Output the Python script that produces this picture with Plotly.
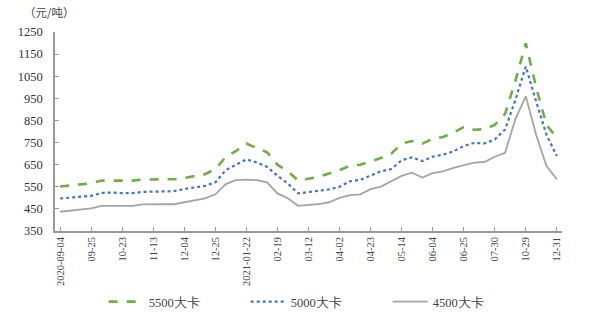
import plotly.graph_objects as go

dates = [
    "2020-09-04", "2020-09-11", "2020-09-18", "2020-09-25", "2020-10-09", "2020-10-16",
    "2020-10-23", "2020-10-30", "2020-11-06", "2020-11-13", "2020-11-20", "2020-11-27",
    "2020-12-04", "2020-12-11", "2020-12-18", "2020-12-25", "2021-01-08", "2021-01-15",
    "2021-01-22", "2021-01-29", "2021-02-05", "2021-02-19", "2021-02-26", "2021-03-05",
    "2021-03-12", "2021-03-19", "2021-03-26", "2021-04-02", "2021-04-09", "2021-04-16",
    "2021-04-23", "2021-04-30", "2021-05-07", "2021-05-14", "2021-05-21", "2021-05-28",
    "2021-06-04", "2021-06-11", "2021-06-18", "2021-06-25", "2021-07-09", "2021-07-16",
    "2021-07-30", "2021-09-03", "2021-10-15", "2021-10-29", "2021-11-19", "2021-12-10",
    "2021-12-31",
]

p5500 = [551, 555, 560, 566, 578, 577, 576, 578, 583, 584, 584, 584,
         590, 598, 607, 630, 685, 712, 746, 725, 706, 650, 620, 578,
         585, 595, 610, 625, 645, 650, 665, 680, 700, 745, 757, 745,
         767, 775, 795, 820, 808, 810, 830, 880, 1030, 1199, 1000, 830, 771]

p5000 = [497, 500, 504, 509, 522, 524, 521, 521, 527, 529, 529, 530,
         540, 546, 554, 570, 625, 650, 674, 660, 640, 600, 565, 520,
         527, 532, 538, 550, 575, 581, 600, 620, 630, 670, 683, 666,
         686, 695, 710, 734, 748, 746, 764, 809, 944, 1094, 936, 785, 689]

p4500 = [437, 443, 448, 452, 464, 465, 464, 464, 470, 472, 471, 471,
         480, 488, 498, 516, 562, 580, 582, 580, 570, 520, 498, 464,
         468, 472, 480, 500, 512, 516, 539, 551, 575, 599, 614, 592,
         612, 620, 635, 648, 659, 662, 686, 704, 857, 959, 785, 644, 584]

tick_vals = dates[::3]
tick_text = ["2020-09-04", "09-25", "10-23", "11-13", "12-04", "12-25", "2021-01-22",
             "02-19", "03-12", "04-02", "04-23", "05-14", "06-04", "06-25", "07-30",
             "10-29", "12-31"]

names = ["5500大卡", "5000大卡", "4500大卡"]
serif = "Liberation Serif"

fig = go.Figure()
fig.add_trace(go.Scatter(x=dates, y=p5500, mode="lines", name=names[0],
                         line=dict(color="#70AD47", width=2.6, dash="dash")))
fig.add_trace(go.Scatter(x=dates, y=p5000, mode="lines", name=names[1],
                         line=dict(color="#4472C4", width=2.2, dash="dot")))
fig.add_trace(go.Scatter(x=dates, y=p4500, mode="lines", name=names[2],
                         line=dict(color="#A5A5A5", width=1.8)))

fig.update_layout(
    width=600, height=327,
    margin=dict(l=55, r=38, t=32, b=95),
    paper_bgcolor="white", plot_bgcolor="white",
    font=dict(family=serif, size=11, color="#333333"),
    showlegend=True,
    legend=dict(orientation="h", x=0.096, xanchor="left", y=-0.35, yanchor="middle",
                font=dict(family=serif, size=12.5, color="#444444"),
                entrywidth=92, entrywidthmode="pixels", itemwidth=35,
                bgcolor="rgba(0,0,0,0)"),
    xaxis=dict(type="category", tickmode="array", tickvals=tick_vals, ticktext=tick_text,
               tickangle=-90, tickfont=dict(family=serif, size=10.5, color="#444444"),
               showline=True, linecolor="#9a9a9a", linewidth=1.5,
               ticks="inside", ticklen=4, tickcolor="#9a9a9a",
               showgrid=False, zeroline=False, range=[-0.5, 48.5]),
    yaxis=dict(range=[350, 1250], tick0=350, dtick=100,
               tickfont=dict(family=serif, size=12.5, color="#333333"),
               ticklabelstandoff=8,
               showline=True, linecolor="#9a9a9a", linewidth=1.5,
               ticks="inside", ticklen=4, tickcolor="#9a9a9a",
               showgrid=False, zeroline=False),
    annotations=[dict(text="（元/吨）", xref="paper", yref="paper", x=-0.065, y=1.05,
                      xanchor="left", yanchor="bottom", showarrow=False,
                      font=dict(family="Noto Sans CJK SC", size=11.5, color="#444444"))],
)

fig.write_html("out.html")
